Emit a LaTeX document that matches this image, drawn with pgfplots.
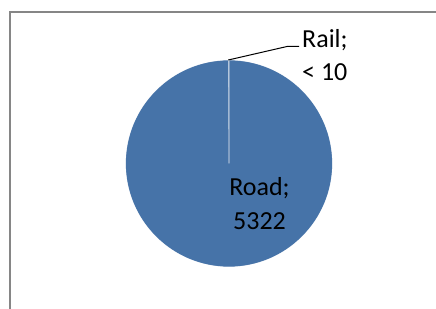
\documentclass[border=0pt]{standalone}
\usepackage{fontspec}
\setmainfont{Carlito}
\usepackage{pgfplots}
\pgfplotsset{compat=1.18}
\definecolor{piecol}{RGB}{70,115,168}
\definecolor{framecol}{RGB}{134,134,134}
% data
\def\roadval{5322}
\def\railval{5}
\pgfmathsetmacro\totval{\roadval+\railval}
\pgfmathsetmacro\frac{\roadval/\totval}
\pgfmathsetmacro\aroad{360*\frac}
\pgfmathsetmacro\eroad{90-\aroad}
\begin{document}
\begin{tikzpicture}
\begin{axis}[width=436bp,height=309bp,scale only axis,
  xmin=0,xmax=436,ymin=0,ymax=309,hide axis,clip=false]
  % frame
  \draw[framecol,line width=1.4bp] (axis cs:10,-10) -- (axis cs:10,297) -- (axis cs:450,297);
  % Road slice
  \fill[piecol,draw=white!60!piecol,line width=0.6bp] (axis cs:229,145.5) -- ++(90:103.5bp)
     arc[start angle=90,end angle=\eroad,radius=103.5bp] -- cycle;
  % Rail slice
  \fill[piecol,draw=white!60!piecol,line width=0.6bp] (axis cs:229,145.5) -- ++(\eroad:103.5bp)
     arc[start angle=\eroad,end angle=-270,radius=103.5bp] -- cycle;
  \draw[white,line width=1.2bp] (axis cs:229,145.5) circle[radius=104bp];
  % leader line
  \addplot[black,line width=1bp,mark=none] coordinates {(228.3,249) (287,262.5) (299,262.5)};
  % labels
  \node[anchor=base,font=\fontsize{26bp}{32bp}\selectfont,inner sep=0pt] at (axis cs:259.5,113) {Road;};
  \node[anchor=base,font=\fontsize{26bp}{32bp}\selectfont,inner sep=0pt] at (axis cs:259.5,79) {5322};
  \node[anchor=base west,font=\fontsize{26bp}{32bp}\selectfont,inner sep=0pt] at (axis cs:302,261) {Rail;};
  \node[anchor=base west,font=\fontsize{26bp}{32bp}\selectfont,inner sep=0pt] at (axis cs:302,228) {< 10};
\end{axis}
\pgfresetboundingbox
\useasboundingbox (0,0) rectangle (436bp,309bp);
\end{tikzpicture}
\end{document}
